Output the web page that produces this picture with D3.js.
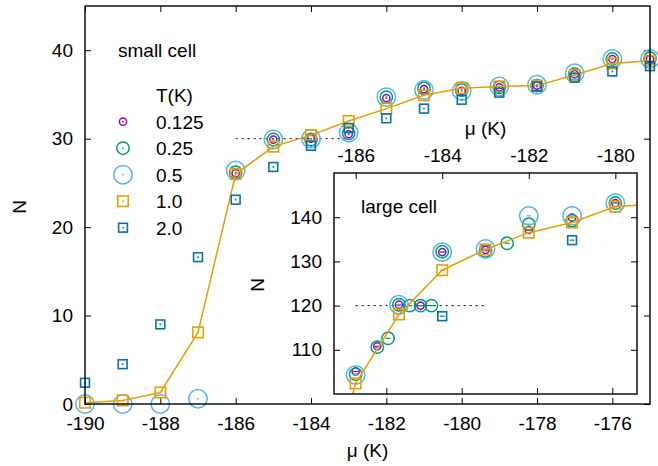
<!DOCTYPE html>
<html><head><meta charset="utf-8">
<script src="https://cdn.jsdelivr.net/npm/d3@7"></script>
<style>
html,body{margin:0;padding:0;background:#fff;}
svg{display:block;font-family:"Liberation Sans",Arial,Helvetica,sans-serif;}
</style></head>
<body><svg id="c" width="658" height="466"></svg>
<script>
// ---------- data ----------
const temps = ["0.125", "0.25", "0.5", "1.0", "2.0"];

// small cell (main plot)
const smallMu = [-190,-189,-188,-187,-186,-185,-184,-183,-182,-181,-180,-179,-178,-177,-176,-175];
const smallN0125 = [null,null,null,null,26.1,29.9,30.0,30.5,34.6,35.6,35.4,35.8,36.0,37.3,39.0,39.0];
const smallN025  = [null,null,null,null,26.2,29.9,29.9,30.6,34.7,35.7,35.5,35.8,36.0,37.3,39.0,39.1];
const smallN05   = [0.0,0.0,0.0,0.6,26.4,29.9,30.0,30.7,34.7,35.5,35.4,35.9,36.1,37.4,39.0,39.0];
const smallN10   = [0.15,0.4,1.3,8.1,26.0,29.1,30.4,32.0,33.4,34.9,35.7,35.9,36.0,37.2,38.5,38.8];
const smallN20   = [2.4,4.5,9.0,16.6,23.1,26.8,29.2,31.2,32.3,33.4,34.4,35.2,35.9,36.9,37.6,38.2];

// large cell (inset)
const largeMu0125 = [-186,-185.5,-185,-184.5,-184,-183,-182,-181,-180];
const largeN0125  = [105.1,110.8,120.2,120.0,132.1,132.6,137.1,139.9,143.2];
const largeMu025  = [-186,-185.5,-185.25,-185,-184.75,-184.5,-184.25,-184,-183,-182.5,-182,-181,-180];
const largeN025   = [104.5,110.6,112.6,120.2,120.0,120.0,120.0,132.2,132.4,134.1,138.4,139.2,143.2];
const largeMu05   = [-186,-185,-184,-183,-182,-181,-180];
const largeN05    = [104.3,120.2,132.1,132.8,140.3,140.3,143.2];
const largeMu10   = [-187,-186,-185,-184,-183,-182,-181,-180,-179];
const largeN10    = [66,102.4,118.0,128.0,132.7,136.5,138.8,142.4,143.0];
const largeMu20   = [-184,-181];
const largeN20    = [117.6,134.8];

// reference (dotted) lines
const smallRefMu = [-186,-183], smallRefN = [30,30];
const largeRefMu = [-186,-183], largeRefN = [120,120];

// ticks
const mainXTicks = [-190,-188,-186,-184,-182,-180,-178,-176];
const mainYTicks = [0,10,20,30,40];
const insetXTicks = [-186,-184,-182,-180];
const insetBottomTicks = [-182,-180,-178,-176];
const insetYTicks = [110,120,130,140];

// ---------- styles ----------
const styles = {
  "0.125": {shape:"circle", size:3.6, color:"#9400d3"},
  "0.25":  {shape:"circle", size:6.2, color:"#009e73"},
  "0.5":   {shape:"circle", size:9.2, color:"#56b4e9"},
  "1.0":   {shape:"square", size:10.5, color:"#e69f00"},
  "2.0":   {shape:"square", size:8.8, color:"#0072b2"}
};
const FS = 19;

const svg = d3.select("#c");
const x = d3.scaleLinear().domain([-190,-175]).range([85,650]);
const y = d3.scaleLinear().domain([0,45]).range([404,6]);
const xi = d3.scaleLinear().domain([-186.5,-179.5]).range([334,637]);
const yi = d3.scaleLinear().domain([100,150]).range([394,173]);

function drawMarker(g, cx, cy, t, center) {
  const s = styles[t];
  if (s.shape === "circle") {
    g.append("circle").attr("cx",cx).attr("cy",cy).attr("r",s.size)
      .attr("fill","none").attr("stroke",s.color).attr("stroke-width",1.5);
  } else {
    g.append("rect").attr("x",cx-s.size/2).attr("y",cy-s.size/2)
      .attr("width",s.size).attr("height",s.size)
      .attr("fill","none").attr("stroke",s.color).attr("stroke-width",1.6);
  }
  if (center === "line") {
    g.append("line").attr("x1",cx-2.5).attr("x2",cx+2.5).attr("y1",cy).attr("y2",cy)
      .attr("stroke",s.color).attr("stroke-width",1.2);
  } else {
    g.append("circle").attr("cx",cx).attr("cy",cy).attr("r",0.9).attr("fill",s.color);
  }
}
function zip(a,b){ return a.map((v,i)=>[v,b[i]]).filter(d=>d[1]!==null); }

function styleAxis(g){
  g.select(".domain").remove();
  g.selectAll(".tick line").attr("stroke","#000").attr("stroke-width",1);
  g.selectAll(".tick text").attr("font-size",FS).attr("fill","#000")
    .attr("font-family","'Liberation Sans',Arial,sans-serif");
}
const fmt = d => String(d);

// ---------- main plot ----------
const main = svg.append("g");
main.append("g").attr("transform","translate(0,404)")
  .call(d3.axisBottom(x).tickValues(mainXTicks).tickSize(-6).tickPadding(12.5).tickFormat(fmt)).call(styleAxis);
main.append("g").attr("transform","translate(0,6)")
  .call(d3.axisTop(x).tickValues(mainXTicks).tickSize(-6).tickFormat("")).call(styleAxis);
main.append("g").attr("transform","translate(85,0)")
  .call(d3.axisLeft(y).tickValues(mainYTicks).tickSize(-6).tickPadding(12).tickFormat(fmt)).call(styleAxis);
main.append("g").attr("transform","translate(650,0)")
  .call(d3.axisRight(y).tickValues(mainYTicks).tickSize(-6).tickFormat("")).call(styleAxis);

// dotted ref line
main.append("path").datum(zip(smallRefMu, smallRefN))
  .attr("d", d3.line().x(d=>x(d[0])).y(d=>y(d[1])))
  .attr("stroke","#000").attr("stroke-width",1).attr("stroke-dasharray","2,4").attr("fill","none");

const smallSeries = {"0.125":smallN0125,"0.25":smallN025,"0.5":smallN05,"1.0":smallN10,"2.0":smallN20};
temps.forEach(t=>{
  const pts = zip(smallMu, smallSeries[t]);
  if (t === "1.0") {
    main.append("path").datum(pts).attr("d", d3.line().x(d=>x(d[0])).y(d=>y(d[1])))
      .attr("stroke",styles[t].color).attr("stroke-width",1.5).attr("fill","none");
  }
  const g = main.append("g");
  pts.forEach(d=>drawMarker(g, x(d[0]), y(d[1]), t, "dot"));
});

main.append("rect").attr("x",85).attr("y",6).attr("width",565).attr("height",398)
  .attr("fill","none").attr("stroke","#000").attr("stroke-width",1.4);

// labels
main.append("text").attr("x",367.5).attr("y",457).attr("text-anchor","middle").attr("font-size",FS).text("μ (K)");
main.append("text").attr("transform","translate(26,207) rotate(-90)").attr("text-anchor","middle").attr("font-size",FS).text("N");

// legend
main.append("text").attr("x",118).attr("y",57).attr("font-size",FS).text("small cell");
main.append("text").attr("x",156).attr("y",102).attr("font-size",FS).text("T(K)");
temps.forEach((t,i)=>{
  const cy = 121.7 + i*26.5;
  const g = main.append("g");
  drawMarker(g, 123, cy, t, "dot");
  main.append("text").attr("x",156).attr("y",cy+7).attr("font-size",FS).text(t);
});

// ---------- inset ----------
const ins = svg.append("g");
ins.append("rect").attr("x",334).attr("y",173).attr("width",303).attr("height",221).attr("fill","#fff");
ins.append("g").attr("transform","translate(0,173)")
  .call(d3.axisTop(xi).tickValues(insetXTicks).tickSize(-6).tickPadding(11).tickFormat(fmt)).call(styleAxis);
ins.append("g").attr("transform","translate(0,394)")
  .call(d3.axisBottom(x).tickValues(insetBottomTicks).tickSize(-6).tickFormat("")).call(styleAxis);
ins.append("g").attr("transform","translate(334,0)")
  .call(d3.axisLeft(yi).tickValues(insetYTicks).tickSize(-6).tickPadding(12).tickFormat(fmt)).call(styleAxis);
ins.append("g").attr("transform","translate(637,0)")
  .call(d3.axisRight(yi).tickValues(insetYTicks).tickSize(-6).tickFormat("")).call(styleAxis);

svg.append("defs").append("clipPath").attr("id","insClip")
  .append("rect").attr("x",334).attr("y",173).attr("width",303).attr("height",221);

ins.append("path").datum(zip(largeRefMu, largeRefN))
  .attr("d", d3.line().x(d=>xi(d[0])).y(d=>yi(d[1])))
  .attr("stroke","#000").attr("stroke-width",1).attr("stroke-dasharray","2,4").attr("fill","none");

const largeSeries = {
  "0.125":[largeMu0125,largeN0125], "0.25":[largeMu025,largeN025], "0.5":[largeMu05,largeN05],
  "1.0":[largeMu10,largeN10], "2.0":[largeMu20,largeN20]
};
temps.forEach(t=>{
  const pts = zip(largeSeries[t][0], largeSeries[t][1]);
  if (t === "1.0") {
    ins.append("path").datum(pts).attr("clip-path","url(#insClip)")
      .attr("d", d3.line().x(d=>xi(d[0])).y(d=>yi(d[1])))
      .attr("stroke",styles[t].color).attr("stroke-width",1.5).attr("fill","none");
  }
  const g = ins.append("g").attr("clip-path","url(#insClip)");
  pts.forEach(d=>drawMarker(g, xi(d[0]), yi(d[1]), t, "line"));
});

ins.append("rect").attr("x",334).attr("y",173).attr("width",303).attr("height",221)
  .attr("fill","none").attr("stroke","#000").attr("stroke-width",1.4);

ins.append("text").attr("x",361).attr("y",213).attr("font-size",FS).text("large cell");
ins.append("text").attr("x",485.5).attr("y",135).attr("text-anchor","middle").attr("font-size",FS).text("μ (K)");
ins.append("text").attr("transform","translate(264,285) rotate(-90)").attr("text-anchor","middle").attr("font-size",FS).text("N");
</script>
</body></html>
